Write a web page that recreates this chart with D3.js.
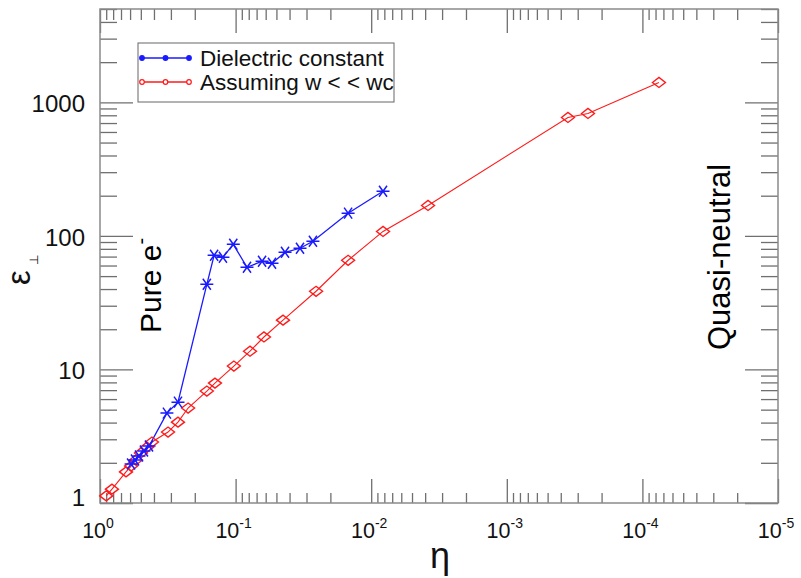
<!DOCTYPE html>
<html>
<head>
<meta charset="utf-8">
<script src="https://cdn.jsdelivr.net/npm/d3@7"></script>
<style>
  body { margin: 0; background: #fff; }
  svg { font-family: "Liberation Sans", Arial, sans-serif; }
</style>
</head>
<body>
<svg id="chart" width="801" height="578"></svg>
<script>
// tick labels
const xMajor = [1, 1e-1, 1e-2, 1e-3, 1e-4, 1e-5];
const xExponents = ["0", "-1", "-2", "-3", "-4", "-5"];
const yMajor = [1, 10, 100, 1000];
const yLabels = ["1", "10", "100", "1000"];

// series: Dielectric constant (blue stars)
const dielEta = [0.590, 0.552, 0.516, 0.474, 0.435, 0.321, 0.266, 0.163, 0.144, 0.124,
  0.104, 0.0824, 0.0638, 0.0539, 0.0432, 0.0335, 0.0269, 0.0148, 0.00818];
const dielEps = [1.96, 2.10, 2.25, 2.45, 2.67, 4.71, 5.69, 43.4, 71.6, 69.2,
  86.5, 58.2, 64.6, 62.4, 75.4, 80.8, 91.1, 148, 216];

// series: Assuming w << wc (red diamonds)
const approxEta = [0.90, 0.816, 0.643, 0.590, 0.543, 0.499, 0.450, 0.414, 0.315, 0.266,
  0.224, 0.163, 0.142, 0.103, 0.0783, 0.0618, 0.0447, 0.0255, 0.0148, 0.00818,
  0.00381, 3.54e-4, 2.52e-4, 7.55e-5];
const approxEps = [1.13, 1.27, 1.71, 1.89, 2.10, 2.37, 2.62, 2.86, 3.40, 4.03,
  5.14, 6.89, 7.90, 10.6, 13.7, 17.5, 23.4, 38.5, 65.7, 108,
  169, 771, 826, 1409];

const svg = d3.select("#chart");
const plotL = 100, plotR = 778, plotT = 9, plotB = 503;

const x = d3.scaleLog().domain([1, 1e-5]).range([plotL, plotR]);
const y = d3.scaleLog().domain([1, 5000]).range([plotB, plotT]);

const isMajor = v => Math.abs(Math.log10(v) - Math.round(Math.log10(v))) < 1e-9;
const xMinor = x.ticks().filter(v => !isMajor(v));
const yMinor = y.ticks().filter(v => !isMajor(v));

const tickColor = "#6f6f6f";

//ticks on all four sides
function drawAxis(axis, transform) {
  const g = svg.append("g").attr("transform", transform).call(axis);
  g.select(".domain").remove();
  g.selectAll("line").attr("stroke", tickColor).attr("stroke-width", 1.3);
  g.selectAll("text").remove();
}
drawAxis(d3.axisBottom(x).tickValues(xMajor).tickSize(-24), `translate(0,${plotB})`);
drawAxis(d3.axisBottom(x).tickValues(xMinor).tickSize(-10), `translate(0,${plotB})`);
drawAxis(d3.axisTop(x).tickValues(xMajor).tickSize(-24), `translate(0,${plotT})`);
drawAxis(d3.axisTop(x).tickValues(xMinor).tickSize(-11), `translate(0,${plotT})`);
drawAxis(d3.axisLeft(y).tickValues(yMajor).tickSize(-33), `translate(${plotL},0)`);
drawAxis(d3.axisLeft(y).tickValues(yMinor).tickSize(-17), `translate(${plotL},0)`);
drawAxis(d3.axisRight(y).tickValues(yMajor).tickSize(-33), `translate(${plotR},0)`);
drawAxis(d3.axisRight(y).tickValues(yMinor).tickSize(-17), `translate(${plotR},0)`);

// frame
svg.append("rect")
  .attr("x", plotL).attr("y", plotT)
  .attr("width", plotR - plotL).attr("height", plotB - plotT)
  .attr("fill", "none").attr("stroke", "#8a8a8a").attr("stroke-width", 1.5);

// x tick labels 10^n
const xl = svg.append("g").selectAll("text")
  .data(xMajor)
  .enter()
  .append("text")
  .attr("x", d => x(d) - 2)
  .attr("y", 538)
  .attr("text-anchor", "middle")
  .attr("font-size", 21.5)
  .attr("fill", "#111");
xl.append("tspan").text("10");
xl.append("tspan")
  .attr("dy", -10)
  .attr("font-size", 14)
  .text((d, i) => xExponents[i]);

// y tick labels
svg.append("g").selectAll("text")
  .data(yMajor)
  .enter()
  .append("text")
  .attr("x", 85)
  .attr("y", (d, i) => y(d) + (i === 0 ? 3 : 10))
  .attr("text-anchor", "end")
  .attr("font-size", 24)
  .attr("fill", "#111")
  .text((d, i) => yLabels[i]);

// lines
const line = d3.line().x(d => x(d[0])).y(d => y(d[1]));
const diel = d3.zip(dielEta, dielEps);
const approx = d3.zip(approxEta, approxEps);

svg.append("path").datum(approx)
  .attr("d", line).attr("fill", "none").attr("stroke", "#ff1a1a").attr("stroke-width", 1.1);
svg.append("path").datum(diel)
  .attr("d", line).attr("fill", "none").attr("stroke", "#1a1aff").attr("stroke-width", 1.3);

// diamonds
svg.append("g").selectAll("path")
  .data(approx)
  .enter()
  .append("path")
  .attr("transform", d => `translate(${x(d[0])},${y(d[1])})`)
  .attr("d", "M-6.5,0L0,-5L6.5,0L0,5Z")
  .attr("fill", "none")
  .attr("stroke", "#ff1a1a")
  .attr("stroke-width", 1.4);

// stars
svg.append("g").selectAll("path")
  .data(diel)
  .enter()
  .append("path")
  .attr("transform", d => `translate(${x(d[0])},${y(d[1])})`)
  .attr("d", "M-6.5,0L6.5,0M-4,-5.5L4,5.5M-4,5.5L4,-5.5")
  .attr("stroke", "#1a1aff")
  .attr("stroke-width", 1.5);

// legend
const legend = svg.append("g");
legend.append("rect")
  .attr("x", 138).attr("y", 43).attr("width", 256).attr("height", 59)
  .attr("fill", "#fff").attr("stroke", "#666").attr("stroke-width", 1);
const legendItems = [
  { label: "Dielectric constant", color: "#1a1aff", y: 58, fill: "#1a1aff" },
  { label: "Assuming w < < wc", color: "#ff1a1a", y: 82, fill: "#fff" },
];
legendItems.forEach(item => {
  legend.append("line")
    .attr("x1", 142).attr("x2", 189).attr("y1", item.y).attr("y2", item.y)
    .attr("stroke", item.color).attr("stroke-width", 1.5);
  [142, 165.5, 189].forEach(cx => {
    legend.append("circle")
      .attr("cx", cx).attr("cy", item.y).attr("r", 2.3)
      .attr("fill", item.fill).attr("stroke", item.color).attr("stroke-width", 1.2);
  });
  legend.append("text")
    .attr("x", 200).attr("y", item.y + 8)
    .attr("font-size", 22.5).attr("fill", "#111")
    .text(item.label);
});

// axis titles
const yTitle = svg.append("text")
  .attr("transform", "translate(30,285) rotate(-90)")
  .attr("font-size", 33).attr("fill", "#111");
yTitle.append("tspan").text("ε");
yTitle.append("tspan").attr("dx", 5).attr("dy", 8).attr("font-size", 12).text("⊥");

svg.append("text")
  .attr("x", 440).attr("y", 568)
  .attr("text-anchor", "middle")
  .attr("font-size", 36).attr("fill", "#111")
  .text("η");

// region annotations
const pure = svg.append("text")
  .attr("transform", "translate(161,333) rotate(-90)")
  .attr("font-size", 30).attr("fill", "#000");
pure.append("tspan").text("Pure e");
pure.append("tspan").attr("dy", -13).attr("font-size", 20).text("-");

svg.append("text")
  .attr("transform", "translate(730,350) rotate(-90)")
  .attr("font-size", 31).attr("fill", "#000")
  .text("Quasi-neutral");
</script>
</body>
</html>
